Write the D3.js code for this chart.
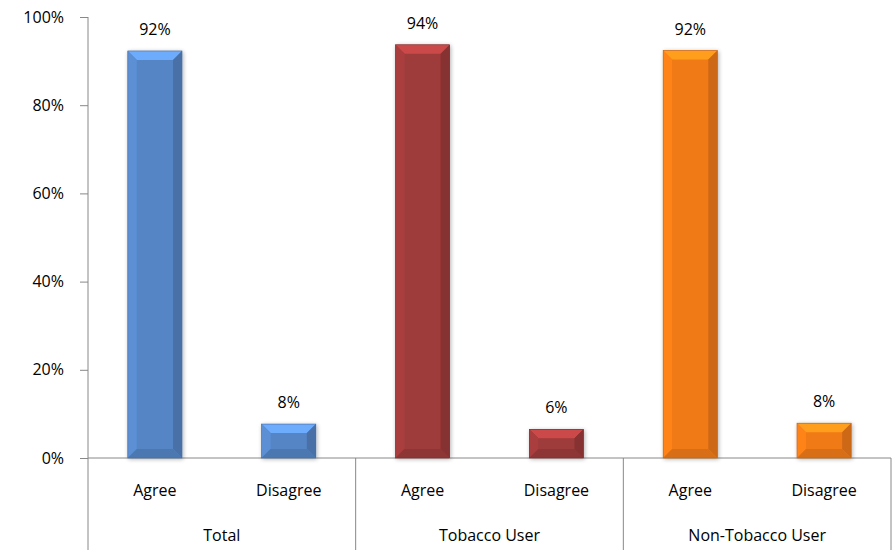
<!DOCTYPE html>
<html><head><meta charset="utf-8">
<script src="https://cdn.jsdelivr.net/npm/d3@7"></script>
<style>body{margin:0;background:#fff}svg{display:block;font-family:"Open Sans","Noto Sans",sans-serif}</style>
</head><body><svg id="c" width="894" height="550"></svg>
<script>
const groups = ["Total", "Tobacco User", "Non-Tobacco User"];
const responses = ["Agree", "Disagree"];
const values = [92.3, 7.7, 93.7, 6.5, 92.4, 7.9];
const labels = ["92%", "8%", "94%", "6%", "92%", "8%"];
const colors = ["#5585C5", "#9E3A3A", "#F07A17"];
const yTicks = [0, 20, 40, 60, 80, 100];

(function () {
const svg = d3.select("#c");
const pL = 88, pR = 891, pT = 17, pB = 458;
const cats = [];
groups.forEach((g, gi) => responses.forEach((r, ri) => cats.push({g, gi, r, key: g + "|" + r})));
cats.forEach((c, i) => { c.v = values[i]; c.label = labels[i]; });

const x = d3.scaleBand().domain(cats.map(c => c.key)).range([pL, pR]).paddingInner(0.595).paddingOuter(0.2975);
const y = d3.scaleLinear().domain([0, 100]).range([pB, pT]);

const defs = svg.append("defs");
const f = defs.append("filter").attr("id", "sh").attr("x", "-20%").attr("y", "-20%").attr("width", "140%").attr("height", "140%");
f.append("feGaussianBlur").attr("in", "SourceAlpha").attr("stdDeviation", 2);
f.append("feOffset").attr("dx", 1).attr("dy", 1).attr("result", "b");
f.append("feComponentTransfer").append("feFuncA").attr("type", "linear").attr("slope", 0.3);
const m = f.append("feMerge"); m.append("feMergeNode"); m.append("feMergeNode").attr("in", "SourceGraphic");

const yAxis = d3.axisLeft(y).tickValues(yTicks).tickFormat(d => d + "%").tickSize(8).tickPadding(16);
const ya = svg.append("g").attr("transform", `translate(${pL},0)`).call(yAxis);
ya.select(".domain").remove();
ya.selectAll(".tick line").attr("stroke", "#888");
ya.selectAll(".tick text").attr("font-size", 16).attr("fill", "#000").style("font-family", "'Open Sans',sans-serif");
svg.append("line").attr("x1", pL).attr("x2", pL).attr("y1", pT).attr("y2", 550).attr("stroke", "#888");
svg.append("line").attr("x1", pL).attr("x2", pR).attr("y1", pB).attr("y2", pB).attr("stroke", "#888");
const gw = (pR - pL) / groups.length;
groups.forEach((g, i) => {
  svg.append("line").attr("x1", pL + gw * (i + 1)).attr("x2", pL + gw * (i + 1)).attr("y1", pB).attr("y2", 550).attr("stroke", "#888");
});

const bars = svg.append("g");
cats.forEach(c => {
  const x0 = x(c.key), w = x.bandwidth(), y0 = y(c.v), h = pB - y0;
  const b = Math.min(9, h / 2, w / 2);
  const col = colors[c.gi];
  const g = bars.append("g").attr("filter", "url(#sh)");
  g.append("rect").attr("x", x0).attr("y", y0).attr("width", w).attr("height", h).attr("fill", col);
  const x1 = x0 + w, y1 = pB;
  const poly = (pts, fill) => g.append("polygon").attr("points", pts.map(p => p.join(",")).join(" ")).attr("fill", fill);
  poly([[x0, y0], [x1, y0], [x1 - b, y0 + b], [x0 + b, y0 + b]], d3.color(col).brighter(0.7));
  poly([[x0, y0], [x0 + b, y0 + b], [x0 + b, y1 - b], [x0, y1]], d3.color(col).brighter(0.2));
  poly([[x1, y0], [x1, y1], [x1 - b, y1 - b], [x1 - b, y0 + b]], d3.color(col).darker(0.45));
  poly([[x0, y1], [x0 + b, y1 - b], [x1 - b, y1 - b], [x1, y1]], d3.color(col).darker(0.3));
  g.append("rect").attr("x", x0).attr("y", y0).attr("width", w).attr("height", h).attr("fill", "none").attr("stroke", d3.color(col).darker(0.6)).attr("stroke-width", 0.6);
  svg.append("text").attr("x", x0 + w / 2).attr("y", y0 - 16).attr("text-anchor", "middle")
    .attr("font-size", 16).attr("fill", "#000").text(c.label);
});

cats.forEach(c => {
  svg.append("text").attr("x", x(c.key) + x.bandwidth() / 2).attr("y", 496).attr("text-anchor", "middle")
    .attr("font-size", 16).attr("fill", "#000").text(c.r);
});
groups.forEach((g, i) => {
  svg.append("text").attr("x", pL + gw * (i + 0.5)).attr("y", 541).attr("text-anchor", "middle")
    .attr("font-size", 16).attr("fill", "#000").text(g);
});
})();
</script></body></html>
